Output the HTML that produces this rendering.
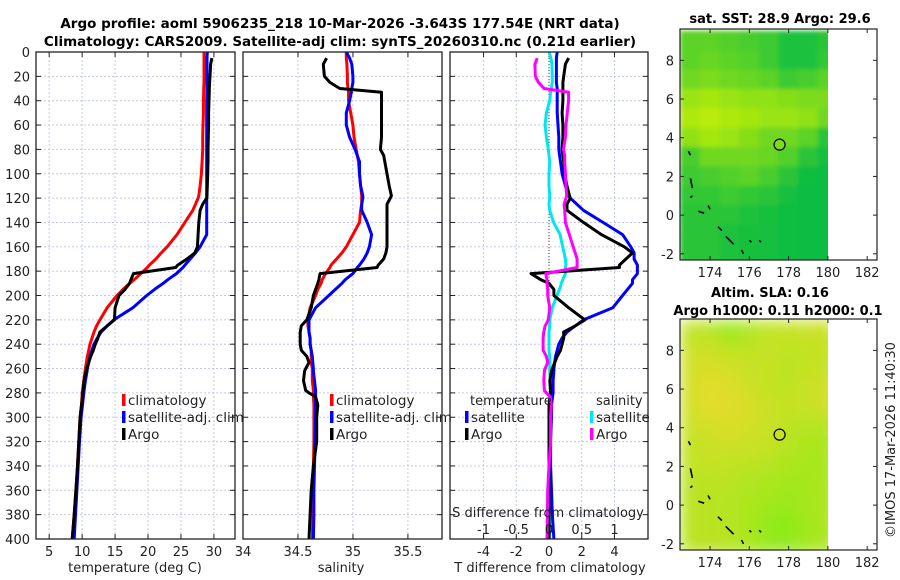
<!DOCTYPE html>
<html><head><meta charset="utf-8">
<style>
body{margin:0;background:#fff;}
svg{display:block;font-family:"DejaVu Sans","Liberation Sans",sans-serif;}
</style></head>
<body>
<svg id="fig" width="900" height="580" viewBox="0 0 900 580">
<defs>
<clipPath id="c1"><rect x="680" y="29" width="148" height="231"/></clipPath>
<clipPath id="c2"><rect x="680" y="319" width="148" height="231"/></clipPath>
<filter id="bl1" x="-5%" y="-5%" width="110%" height="110%"><feGaussianBlur stdDeviation="2"/></filter>
<filter id="bl2" x="-5%" y="-5%" width="110%" height="110%"><feGaussianBlur stdDeviation="8"/></filter>
</defs>
<text x="340" y="28" text-anchor="middle" font-size="13.5" font-weight="bold">Argo profile: aoml 5906235_218 10-Mar-2026 -3.643S 177.54E (NRT data)</text>
<text x="340" y="46" text-anchor="middle" font-size="13.5" font-weight="bold">Climatology: CARS2009. Satellite-adj clim: synTS_20260310.nc (0.21d earlier)</text>
<text x="780" y="23" text-anchor="middle" font-size="13" font-weight="bold">sat. SST: 28.9 Argo: 29.6</text>
<text x="770" y="297" text-anchor="middle" font-size="13" font-weight="bold">Altim. SLA: 0.16</text>
<text x="778" y="315" text-anchor="middle" font-size="13" font-weight="bold">Argo h1000: 0.11 h2000: 0.1</text>
<text transform="translate(895,440) rotate(-90)" text-anchor="middle" font-size="13" fill="#222">©IMOS 17-Mar-2026 11:40:30</text>
<g id="plots"></g>
</svg>
<script>
// shared depth levels (m)
const depths=[0,5,10,20,25,30,33,40,50,60,70,80,85,90,100,110,118,120,125,130,140,150,160,165,170,175,177,182,187,190,195,200,210,220,225,230,235,240,245,250,255,260,262,270,278,280,283,290,300,320,340,360,380,400];
const tempClim=[28.5,28.5,28.5,28.5,28.5,28.45,28.45,28.4,28.4,28.35,28.3,28.3,28.25,28.2,28.1,27.9,27.7,27.6,27.2,26.8,25.6,24.4,22.9,22.0,21.2,20.2,19.9,18.9,17.9,17.2,16.2,15.3,13.8,12.7,12.2,11.8,11.5,11.2,11.0,10.8,10.65,10.5,10.45,10.25,10.05,10.0,9.98,9.9,9.7,9.5,9.3,9.05,8.8,8.5];
const tempSat=[29.0,28.95,28.95,28.95,28.95,28.95,28.95,28.9,28.9,28.9,28.9,28.9,28.9,28.9,28.9,28.9,28.9,28.9,28.9,28.9,28.9,28.9,27.9,27.2,26.4,25.6,25.3,24.3,23.0,22.3,21.0,19.8,17.7,14.8,13.8,12.9,12.3,11.8,11.5,11.2,11.0,10.8,10.75,10.5,10.3,10.25,10.2,10.05,9.85,9.6,9.4,9.2,9.0,8.8];
const tempArgo=[null,29.7,29.5,29.4,29.35,29.3,29.3,29.25,29.2,29.2,29.15,29.1,29.1,29.1,29.05,29.0,28.95,28.9,28.3,27.9,27.7,27.6,27.5,27.1,25.9,24.5,24.2,17.8,17.4,17.2,16.5,15.6,15.0,14.9,13.8,12.7,12.4,12.0,11.7,11.3,11.0,10.7,10.6,10.3,10.15,10.1,10.05,9.9,9.7,9.5,9.3,9.05,8.8,8.5];
const salClim=[34.94,34.94,34.945,34.95,34.95,34.955,34.96,34.96,34.98,35.0,35.01,35.03,35.04,35.05,35.06,35.07,35.08,35.08,35.08,35.07,35.06,35.0,34.94,34.9,34.85,34.8,34.79,34.75,34.72,34.71,34.68,34.66,34.61,34.59,34.59,34.6,34.61,34.61,34.62,34.62,34.62,34.63,34.63,34.63,34.64,34.64,34.64,34.645,34.645,34.645,34.64,34.64,34.635,34.63];
const salSat=[34.94,34.97,34.99,35.0,35.0,34.99,34.985,34.97,34.94,34.94,34.97,35.02,35.04,35.06,35.06,35.07,35.09,35.09,35.08,35.08,35.13,35.17,35.15,35.13,35.1,35.06,35.04,35.0,34.93,34.9,34.84,34.78,34.66,34.6,34.6,34.6,34.61,34.61,34.62,34.63,34.635,34.64,34.64,34.65,34.66,34.66,34.66,34.66,34.66,34.655,34.65,34.645,34.645,34.64];
const salArgo=[null,34.76,34.73,34.74,34.79,34.88,35.26,35.26,35.26,35.26,35.26,35.25,35.28,35.29,35.31,35.33,35.35,35.34,35.31,35.31,35.31,35.31,35.31,35.3,35.28,35.23,35.22,34.7,34.69,34.68,34.66,34.64,34.62,34.58,34.53,34.52,34.52,34.52,34.53,34.58,34.6,34.57,34.56,34.55,34.57,34.6,34.66,34.68,34.67,34.67,34.64,34.62,34.61,34.6];
const depthTicks=[0,20,40,60,80,100,120,140,160,180,200,220,240,260,280,300,320,340,360,380,400];
const tempTicks=[5,10,15,20,25,30];
const salTicks=[34,34.5,35,35.5];
const salTickLabels=["34","34.5","35","35.5"];
const tdiffTicks=[-4,-2,0,2,4];
const sdiffTicks=[-1,-0.5,0,0.5,1];
const sdiffTickLabels=["-1","-0.5","0","0.5","1"];
// map data: rows lat 9..-2, cols lon 173..180
const mapLats=[9,8,7,6,5,4,3,2,1,0,-1,-2];
const mapLons=[173,174,175,176,177,178,179,180];
const sstVals=[
[.45,.45,.4,.35,.3,.15,.15,.2],[.45,.5,.45,.4,.3,.15,.15,.25],[.55,.6,.55,.5,.45,.3,.35,.45],
[.75,.8,.75,.7,.7,.65,.6,.6],[.85,.9,.85,.8,.75,.75,.7,.55],[.7,.8,.75,.65,.55,.55,.45,.2],
[.35,.55,.55,.55,.5,.4,.2,.1],[.3,.35,.4,.45,.35,.2,.08,.05],[.25,.25,.3,.25,.2,.1,.05,.05],
[.2,.2,.2,.15,.12,.08,.05,.05],[.2,.2,.15,.12,.1,.08,.05,.05],[.2,.2,.15,.12,.1,.08,.05,.05]];
const slaVals=[
[.5,.45,.1,.35,.5,.55,.6,.6],[.6,.65,.5,.5,.6,.5,.55,.55],[.7,.75,.7,.6,.55,.45,.55,.6],
[.7,.85,.8,.65,.55,.5,.6,.7],[.7,.85,.8,.75,.6,.55,.6,.65],[.6,.7,.75,.7,.6,.45,.4,.4],
[.55,.6,.65,.6,.55,.4,.3,.3],[.5,.55,.5,.45,.4,.3,.25,.25],[.45,.45,.45,.35,.3,.2,.25,.3],
[.45,.45,.4,.3,.2,.15,.25,.3],[.45,.45,.4,.3,.05,0,.2,.3],[.45,.45,.4,.3,.1,.05,.25,.35]];
const floatLon=177.54, floatLat=3.643;
const mapLonTicks=[174,176,178,180,182];
const mapLatTicks=[-2,0,2,4,6,8];

const NS="http://www.w3.org/2000/svg";
const G=document.getElementById('plots');
function el(tag,at,parent){const e=document.createElementNS(NS,tag);for(const k in at)e.setAttribute(k,at[k]);(parent||G).appendChild(e);return e;}
function txt(x,y,s,at,parent){const e=el('text',Object.assign({x:x,y:y,'font-size':13,fill:'#222'},at||{}),parent);e.textContent=s;return e;}

const PT=52,PB=539;
const yD=d=>PT+(d-0)/(400-0)*(PB-PT);
function panel(x0,x1,dmin,dmax,name){
  const g=el('g',{});
  
  
  const xs=v=>x0+(v-dmin)/(dmax-dmin)*(x1-x0);
  return {g,xs,x0,x1};
}
function gridAndAxes(p,xticks,leftLabels){
  for(const d of depthTicks){const y=yD(d);
    if(d>0&&d<400){const gl=el('line',{x1:p.x0,x2:p.x1,y1:y,y2:y,stroke:'#c4c8e6','stroke-width':1,'stroke-dasharray':'2,2'},p.g);
      }
    el('line',{x1:p.x0,x2:p.x0+5,y1:y,y2:y,stroke:'#222'},p.g);
    el('line',{x1:p.x1-5,x2:p.x1,y1:y,y2:y,stroke:'#222'},p.g);
    if(leftLabels){const t=txt(p.x0-6,y+5,String(d),{'text-anchor':'end'},p.g);
      }
  }
  for(const v of xticks){const x=p.xs(v);
    if(x>p.x0+1&&x<p.x1-1){const gl=el('line',{x1:x,x2:x,y1:PT,y2:PB,stroke:'#c4c8e6','stroke-width':1,'stroke-dasharray':'2,2'},p.g);
      }
    el('line',{x1:x,x2:x,y1:PB,y2:PB-5,stroke:'#222'},p.g);
    el('line',{x1:x,x2:x,y1:PT,y2:PT+5,stroke:'#222'},p.g);
  }
}
function frame(p){const r=el('rect',{x:p.x0,y:PT,width:p.x1-p.x0,height:PB-PT,fill:'none',stroke:'#222','stroke-width':1.3},p.g);
  }
function line(p,vals,color,name,w){
  let d='';let pen=false;
  vals.forEach((v,i)=>{if(v===null){pen=false;return;}d+=(pen?'L':'M')+p.xs(v).toFixed(1)+','+yD(depths[i]).toFixed(1);pen=true;});
  const e=el('path',{d:d,fill:'none',stroke:color,'stroke-width':w||3,'stroke-linejoin':'round'},p.g);
  
}
function legendEntry(p,x,y,color,label,name){
  const g=el('g',{},p.g);
  
  el('rect',{x:x,y:y-11,width:3.5,height:12,fill:color},g);
  txt(x+6,y,label,{'font-size':13.5},g);
}

// Panel 1 temperature
const p1=panel(36,235,3,33.2,'temperature-panel');
gridAndAxes(p1,tempTicks,true);
line(p1,tempClim,'#ff0000','temp-climatology-line');
line(p1,tempSat,'#0000ff','temp-satellite-line');
line(p1,tempArgo,'#000000','temp-argo-line');
frame(p1);
tempTicks.forEach(v=>{const t=txt(p1.xs(v),556,String(v),{'text-anchor':'middle'},p1.g);});
{const t=txt(135,572,'temperature (deg C)',{'text-anchor':'middle'},p1.g);}
legendEntry(p1,122,405,'#ff0000','climatology','legend-climatology');
legendEntry(p1,122,422,'#0000ff','satellite-adj. clim','legend-satellite');
legendEntry(p1,122,439,'#000000','Argo','legend-argo');

// Panel 2 salinity
const p2=panel(243,442,34,35.81,'salinity-panel');
gridAndAxes(p2,salTicks,false);
line(p2,salClim,'#ff0000','sal-climatology-line');
line(p2,salSat,'#0000ff','sal-satellite-line');
line(p2,salArgo,'#000000','sal-argo-line');
frame(p2);
salTicks.forEach((v,i)=>{const t=txt(p2.xs(v),556,salTickLabels[i],{'text-anchor':'middle'},p2.g);});
{const t=txt(341,572,'salinity',{'text-anchor':'middle'},p2.g);}
legendEntry(p2,330,405,'#ff0000','climatology','legend-climatology');
legendEntry(p2,330,422,'#0000ff','satellite-adj. clim','legend-satellite');
legendEntry(p2,330,439,'#000000','Argo','legend-argo');

// Panel 3 differences
const p3=panel(450,648,-6.05,6.05,'difference-panel');
const sxs=v=>p3.xs(v*4);
gridAndAxes(p3,tdiffTicks,false);
{const z=el('line',{x1:p3.xs(0),x2:p3.xs(0),y1:PT,y2:PB,stroke:'#444','stroke-dasharray':'1,2'},p3.g);}
const diff=(a,b)=>a.map((v,i)=>v===null?null:v-b[i]);
const pS={g:p3.g,xs:v=>sxs(v)};
line(pS,diff(salSat,salClim),'#00e5ee','sal-diff-satellite-line');
line(p3,diff(tempSat,tempClim),'#0000ff','temp-diff-satellite-line');
line(p3,diff(tempArgo,tempClim),'#000000','temp-diff-argo-line');
line(pS,diff(salArgo,salClim),'#ff00ff','sal-diff-argo-line');
frame(p3);
tdiffTicks.forEach(v=>{const t=txt(p3.xs(v),556,String(v),{'text-anchor':'middle'},p3.g);});
sdiffTicks.forEach((v,i)=>{const t=txt(sxs(v),534,sdiffTickLabels[i],{'text-anchor':'middle'},p3.g);});
{const t=txt(548,517,'S difference from climatology',{'text-anchor':'middle'},p3.g);}
{const t=txt(550,572,'T difference from climatology',{'text-anchor':'middle'},p3.g);}
{const t=txt(470,405,'temperature',{},p3.g);}
{const t=txt(596,405,'salinity',{},p3.g);}
legendEntry(p3,465,422,'#0000ff','satellite','legend-temp-satellite');
legendEntry(p3,465,439,'#000000','Argo','legend-temp-argo');
legendEntry(p3,590,422,'#00e5ee','satellite','legend-sal-satellite');
legendEntry(p3,590,439,'#ff00ff','Argo','legend-sal-argo');

// Maps
function mapPanel(top,vals,c0,c1,blurId,clipId,name){
  const g=el('g',{});
  
  const x0=680,x1=877,lon0=172.47,lon1=182.5,lat0=-2.32,lat1=9.62,y1=top+231;
  const xs=l=>x0+(l-lon0)/(lon1-lon0)*(x1-x0);
  const ys=l=>y1-(l-lat0)/(lat1-lat0)*(y1-top);
  const cg=el('g',{'clip-path':'url(#'+clipId+')'},g);
  const bg=el('g',{filter:'url(#'+blurId+')'},cg);
  vals.forEach((row,i)=>row.forEach((v,j)=>{
    const c=c0.map((a,k)=>Math.round(a+(c1[k]-a)*v));
    const r=el('rect',{x:xs(mapLons[j]-0.5)-0.5,y:ys(mapLats[i]+0.5)-0.5,width:xs(1)-xs(0)+1,height:ys(0)-ys(1)+1,fill:'rgb('+c.join(',')+')'},bg);
    
  }));
  const isl=[[172.9,3.3,173.0,3.1],[173.0,1.9,173.1,1.4],[173.1,1.0,173.0,0.9],[173.4,0.2,173.7,0.1],[173.9,0.5,174.0,0.3],[174.4,-0.6,174.6,-0.8],[174.8,-1.1,175.2,-1.5],[175.6,-1.8,175.7,-2.0],[176.0,-1.3,176.1,-1.4],[176.5,-1.3,176.6,-1.4]];
  isl.forEach(s=>{const e=el('line',{x1:xs(s[0]),y1:ys(s[1]),x2:xs(s[2]),y2:ys(s[3]),stroke:'#000','stroke-width':1.6},g);});
  const m=el('circle',{cx:xs(floatLon),cy:ys(floatLat),r:5.5,fill:'rgb('+c0.map((a,k)=>Math.round(a+(c1[k]-a)*0.6)).join(',')+')',stroke:'#000','stroke-width':1.2},g);
  
  const fr=el('rect',{x:x0,y:top,width:x1-x0,height:231,fill:'none',stroke:'#222','stroke-width':1.2},g);
  
  mapLonTicks.forEach(v=>{const x=xs(v);el('line',{x1:x,x2:x,y1:y1,y2:y1-4,stroke:'#222'},g);el('line',{x1:x,x2:x,y1:top,y2:top+4,stroke:'#222'},g);
    const t=txt(x,y1+17,String(v),{'text-anchor':'middle'},g);});
  mapLatTicks.forEach(v=>{const y=ys(v);el('line',{x1:x0,x2:x0+4,y1:y,y2:y,stroke:'#222'},g);el('line',{x1:x1-4,x2:x1,y1:y,y2:y,stroke:'#222'},g);
    const t=txt(x0-6,y+5,String(v),{'text-anchor':'end'},g);});
}
mapPanel(29,sstVals,[0,185,70],[205,242,0],'bl1','c1','sst-map');
mapPanel(319,slaVals,[140,235,25],[242,218,45],'bl2','c2','sla-map');
</script>
</body></html>
